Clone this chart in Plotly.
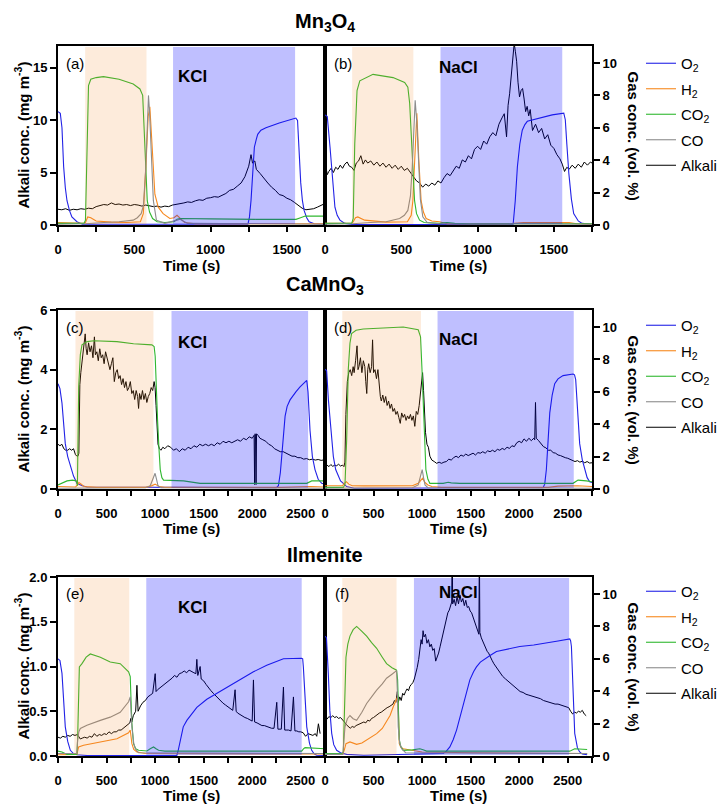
import plotly.graph_objects as go

# ------------------------------------------------------------------ data
materials = ["Mn<sub>3</sub>O<sub>4</sub>", "CaMnO<sub>3</sub>", "Ilmenite"]
panel_tags = ["(a)", "(b)", "(c)", "(d)", "(e)", "(f)"]
salt_names = ["KCl", "NaCl", "KCl", "NaCl", "KCl", "NaCl"]
series_names = ["O<sub>2</sub>", "H<sub>2</sub>", "CO<sub>2</sub>", "CO", "Alkali"]
series_colors = ["#2323e6", "#f7891f", "#30b830", "#8c8c8c", "#000000"]

time_max = [1750, 2750, 2750]
alkali_max = [17.05, 6, 2]
alkali_dtick = [5, 2, 0.5]
alkali_format = ["d", "d", ".1f"]
gas_max = 11.05
gas_dtick = 2

reduction_phase = [[178, 580], [178, 579], [180, 983], [178, 988], [168, 734], [178, 737]]
oxidation_phase = [[754, 1554], [757, 1555], [1169, 2576], [1159, 2562], [909, 2510], [916, 2514]]

# ---- (a) Mn3O4 / KCl
a_o2_t = [0, 15, 26, 37, 48, 59, 75, 91, 124, 160, 1245, 1255, 1265, 1276, 1287, 1300, 1309, 1330, 1363, 1450, 1559, 1570, 1580, 1591, 1602, 1613, 1630, 1646, 1680, 1750]
a_o2 = [7.0, 6.9, 6.0, 3.6, 2.3, 1.5, 0.9, 0.5, 0.2, 0.05, 0.05, 0.5, 1.5, 3.2, 4.8, 5.3, 5.6, 5.85, 6.0, 6.3, 6.6, 6.45, 4.6, 2.6, 1.5, 0.9, 0.45, 0.2, 0.08, 0.05]
a_h2_t = [0, 170, 180, 195, 215, 250, 350, 450, 540, 559, 576, 591, 602, 620, 635, 657, 689, 733, 760, 780, 800, 830, 900, 1250, 1300, 1600, 1750]
a_h2 = [0.15, 0.1, 0.15, 0.5, 0.45, 0.25, 0.18, 0.15, 0.2, 0.7, 3.6, 6.7, 7.3, 4.6, 1.9, 1.1, 0.7, 0.4, 0.45, 0.6, 0.4, 0.15, 0.08, 0.08, 0.1, 0.1, 0.08]
a_co2_t = [0, 170, 180, 190, 200, 215, 250, 298, 400, 493, 537, 555, 565, 575, 585, 600, 620, 650, 700, 760, 780, 800, 850, 1000, 1300, 1560, 1590, 1620, 1750]
a_co2 = [0.1, 0.1, 0.3, 5.0, 8.6, 9.0, 9.1, 9.16, 9.0, 8.7, 8.4, 8.0, 6.0, 3.0, 1.5, 0.8, 0.4, 0.2, 0.15, 0.2, 0.35, 0.4, 0.4, 0.38, 0.35, 0.35, 0.45, 0.55, 0.55]
a_co_t = [0, 180, 300, 400, 493, 520, 545, 560, 575, 585, 593, 600, 612, 625, 645, 700, 780, 800, 850, 1750]
a_co = [0.05, 0.08, 0.15, 0.2, 0.3, 0.45, 0.7, 1.2, 3.5, 6.5, 8.0, 7.0, 4.0, 1.5, 0.3, 0.1, 0.3, 0.35, 0.1, 0.05]
a_alk_t = [0, 25, 50, 75, 100, 125, 150, 175, 200, 225, 250, 275, 300, 325, 350, 375, 400, 425, 450, 475, 500, 525, 550, 575, 600, 625, 650, 675, 700, 725, 750, 775, 800, 825, 850, 875, 900, 925, 950, 975, 1000, 1025, 1050, 1075, 1100, 1125, 1150, 1175, 1200, 1225, 1250, 1265, 1275, 1290, 1300, 1325, 1350, 1375, 1400, 1425, 1450, 1475, 1500, 1525, 1550, 1575, 1600, 1625, 1650, 1675, 1700, 1725, 1750]
a_alk = [1.5, 1.45, 1.55, 1.4, 1.5, 1.45, 1.55, 1.5, 1.6, 1.55, 1.75, 1.85, 1.95, 1.9, 2.1, 1.95, 2.0, 1.9, 1.95, 1.85, 1.95, 1.9, 1.8, 1.9, 1.85, 1.75, 1.8, 1.7, 1.8, 1.75, 1.9, 1.95, 2.05, 2.1, 2.2, 2.15, 2.3, 2.4, 2.35, 2.55, 2.6, 2.7, 2.65, 2.85, 3.0, 3.3, 3.4, 3.7, 4.0, 4.6, 5.6, 6.7, 5.9, 6.1, 5.3, 4.9, 4.4, 4.0, 3.6, 3.3, 2.9, 2.8, 2.55, 2.4, 2.15, 1.9, 1.6, 1.45, 1.5, 1.55, 1.7, 1.85, 2.05]

# ---- (b) Mn3O4 / NaCl
b_o2_t = [0, 15, 33, 50, 65, 80, 98, 130, 180, 1233, 1247, 1261, 1277, 1293, 1310, 1326, 1400, 1489, 1565, 1575, 1585, 1598, 1615, 1630, 1660, 1685, 1750]
b_o2 = [6.8, 6.7, 4.8, 2.6, 1.1, 0.6, 0.3, 0.1, 0.03, 0.03, 1.5, 3.6, 5.0, 5.85, 6.2, 6.4, 6.6, 6.8, 6.9, 6.5, 5.0, 3.2, 1.6, 0.7, 0.25, 0.1, 0.05]
b_h2_t = [0, 175, 185, 200, 215, 260, 400, 540, 565, 576, 588, 602, 615, 630, 645, 663, 700, 750, 800, 1200, 1300, 1600, 1650, 1750]
b_h2 = [0.1, 0.1, 0.2, 0.45, 0.5, 0.3, 0.18, 0.2, 0.6, 1.5, 4.0, 6.9, 4.0, 1.5, 0.8, 0.4, 0.25, 0.2, 0.08, 0.08, 0.15, 0.15, 0.08, 0.05]
b_co2_t = [0, 175, 185, 195, 210, 228, 315, 446, 522, 543, 555, 565, 576, 587, 600, 620, 650, 750, 800, 850, 950, 1750]
b_co2 = [0.1, 0.1, 0.4, 5.0, 8.3, 8.9, 9.3, 9.1, 8.8, 8.5, 7.5, 5.6, 3.2, 1.5, 0.7, 0.3, 0.15, 0.1, 0.15, 0.1, 0.08, 0.08]
b_co_t = [0, 180, 300, 400, 489, 520, 543, 560, 572, 582, 591, 602, 613, 625, 641, 670, 750, 1750]
b_co = [0.05, 0.08, 0.15, 0.2, 0.4, 0.6, 0.9, 1.8, 3.6, 6.0, 7.7, 6.3, 3.6, 1.6, 0.5, 0.15, 0.08, 0.05]
b_alk_t = [0, 15, 25, 40, 55, 70, 85, 100, 115, 130, 145, 160, 175, 190, 205, 220, 235, 250, 265, 280, 300, 320, 340, 360, 380, 400, 420, 440, 460, 480, 500, 520, 540, 560, 580, 600, 620, 640, 660, 680, 700, 720, 740, 760, 780, 800, 820, 840, 860, 880, 900, 920, 940, 960, 980, 1000, 1020, 1040, 1060, 1080, 1100, 1120, 1140, 1160, 1175, 1190, 1200, 1210, 1220, 1230, 1240, 1248, 1256, 1265, 1275, 1285, 1295, 1305, 1315, 1325, 1335, 1345, 1360, 1380, 1400, 1420, 1440, 1460, 1480, 1500, 1520, 1540, 1555, 1570, 1585, 1600, 1620, 1640, 1660, 1680, 1700, 1720, 1740, 1750]
b_alk = [6.0, 4.8, 5.1, 5.4, 5.0, 5.5, 5.3, 5.7, 5.4, 5.8, 6.0, 5.6, 5.5, 5.2, 5.9, 6.1, 6.6, 5.8, 6.2, 5.9, 6.1, 5.7, 6.0, 5.6, 5.9, 5.5, 5.8, 5.4, 5.7, 5.3, 5.6, 5.2, 5.4, 5.0, 4.5, 4.2, 4.0, 3.6, 3.9, 3.7, 4.0, 3.8, 4.2, 4.0, 4.5, 4.9, 4.7, 5.2, 5.6, 5.4, 6.2, 6.0, 6.6, 6.3, 7.2, 7.5, 7.2, 8.0, 7.7, 8.4, 8.8, 8.5, 9.6, 10.2, 10.6, 8.4, 11.4, 12.5, 14.2, 15.8, 17.3, 16.5, 15.6, 13.6, 12.2, 12.8, 13.0, 12.0, 10.8, 11.3, 10.4, 11.0, 9.0, 9.6, 8.8, 9.2, 8.2, 8.6, 7.6, 7.3, 6.7, 6.3, 5.8, 5.1, 5.5, 5.3, 5.7, 5.4, 5.8, 5.5, 6.0, 5.7, 6.0, 5.9]

# ---- (c) CaMnO3 / KCl
c_o2_t = [0, 20, 41, 60, 75, 100, 127, 160, 195, 250, 300, 2250, 2270, 2290, 2304, 2320, 2339, 2360, 2390, 2450, 2493, 2562, 2575, 2596, 2620, 2647, 2680, 2716, 2750]
c_o2 = [6.5, 6.2, 5.3, 4.0, 2.8, 2.0, 1.4, 0.8, 0.35, 0.2, 0.12, 0.08, 0.2, 1.0, 2.0, 3.3, 4.5, 5.1, 5.5, 6.0, 6.3, 6.7, 6.0, 3.6, 2.0, 1.2, 0.6, 0.35, 0.3]
c_h2_t = [0, 180, 200, 215, 240, 270, 400, 900, 960, 1000, 1040, 1100, 2300, 2600, 2750]
c_h2 = [0.15, 0.12, 0.25, 0.4, 0.3, 0.15, 0.1, 0.1, 0.18, 0.3, 0.15, 0.1, 0.1, 0.15, 0.12]
c_co2_t = [0, 93, 150, 190, 200, 213, 230, 247, 300, 367, 607, 778, 967, 990, 1001, 1013, 1025, 1040, 1053, 1070, 1087, 1293, 1464, 2562, 2590, 2613, 2750]
c_co2 = [0.25, 0.5, 0.55, 0.5, 0.2, 6.3, 8.3, 8.9, 9.1, 9.15, 9.1, 8.97, 8.9, 8.8, 8.2, 6.0, 4.3, 2.5, 1.2, 0.7, 0.55, 0.5, 0.35, 0.35, 0.45, 0.5, 0.5]
c_co_t = [0, 900, 950, 980, 1000, 1015, 1030, 1060, 2750]
c_co = [0.05, 0.08, 0.2, 0.6, 0.97, 0.6, 0.2, 0.08, 0.05]
c_alk_t = [0, 20, 40, 60, 80, 100, 120, 140, 160, 180, 195, 205, 215, 225, 235, 250, 265, 280, 290, 300, 315, 330, 345, 360, 375, 385, 400, 415, 430, 445, 460, 475, 490, 505, 520, 535, 550, 565, 580, 595, 610, 625, 640, 655, 670, 685, 700, 715, 730, 745, 760, 775, 790, 805, 820, 830, 840, 855, 870, 885, 900, 915, 930, 945, 960, 975, 990, 1000, 1010, 1020, 1030, 1045, 1060, 1080, 1100, 1130, 1160, 1190, 1220, 1250, 1280, 1310, 1340, 1370, 1400, 1430, 1460, 1490, 1520, 1550, 1580, 1610, 1640, 1670, 1700, 1730, 1760, 1790, 1820, 1850, 1880, 1910, 1940, 1970, 2000, 2020, 2025, 2030, 2035, 2040, 2045, 2060, 2080, 2110, 2140, 2170, 2200, 2230, 2260, 2290, 2320, 2350, 2380, 2410, 2440, 2470, 2500, 2530, 2560, 2590, 2620, 2650, 2680, 2710, 2750]
c_alk = [1.5, 1.45, 1.5, 1.35, 1.3, 1.3, 1.35, 1.3, 1.35, 1.15, 1.1, 1.1, 1.2, 3.5, 3.9, 4.3, 4.6, 5.2, 4.7, 4.5, 4.9, 4.6, 4.8, 4.4, 5.1, 4.5, 4.6, 4.3, 4.7, 4.4, 4.5, 4.2, 4.6, 4.4, 4.3, 4.0, 4.2, 4.4, 3.6, 3.9, 4.0, 3.7, 3.8, 3.5, 3.7, 3.4, 3.6, 3.3, 3.4, 3.6, 3.2, 3.3, 3.0, 3.3, 3.1, 2.7, 3.2, 3.0, 3.3, 3.0, 3.2, 2.9, 3.1, 3.2, 3.4, 3.3, 3.6, 3.4, 2.8, 2.0, 1.5, 1.35, 1.3, 1.4, 1.35, 1.45, 1.4, 1.3, 1.35, 1.25, 1.35, 1.3, 1.4, 1.35, 1.45, 1.4, 1.5, 1.45, 1.5, 1.45, 1.5, 1.45, 1.55, 1.5, 1.6, 1.55, 1.6, 1.55, 1.6, 1.65, 1.6, 1.7, 1.65, 1.75, 1.7, 1.8, 0.15, 1.85, 1.75, 0.15, 1.85, 1.8, 1.7, 1.65, 1.6, 1.5, 1.45, 1.35, 1.3, 1.25, 1.25, 1.2, 1.15, 1.1, 1.1, 1.05, 1.05, 1.0, 1.02, 0.98, 1.0, 0.97, 0.99, 0.96, 0.98]

# ---- (d) CaMnO3 / NaCl
d_o2_t = [0, 17, 35, 51, 70, 86, 110, 137, 160, 189, 223, 300, 2246, 2263, 2280, 2298, 2315, 2340, 2366, 2400, 2452, 2555, 2570, 2582, 2600, 2623, 2650, 2675, 2700, 2726, 2750]
d_o2 = [7.4, 7.3, 5.5, 4.3, 2.8, 2.0, 1.2, 0.76, 0.5, 0.35, 0.15, 0.05, 0.08, 0.3, 1.2, 3.0, 4.7, 5.8, 6.5, 6.8, 7.0, 7.1, 7.05, 6.75, 5.0, 2.8, 1.8, 1.2, 0.7, 0.45, 0.4]
d_h2_t = [0, 180, 200, 220, 245, 280, 400, 900, 960, 990, 1005, 1030, 1060, 1100, 1200, 2300, 2400, 2600, 2750]
d_h2 = [0.2, 0.2, 0.35, 0.45, 0.3, 0.2, 0.19, 0.2, 0.35, 0.6, 0.66, 0.4, 0.25, 0.15, 0.1, 0.1, 0.18, 0.2, 0.15]
d_co2_t = [0, 190, 206, 223, 240, 257, 274, 320, 394, 634, 806, 960, 984, 998, 1012, 1026, 1039, 1060, 1080, 1217, 1269, 1300, 1389, 2555, 2580, 2606, 2692, 2750]
d_co2 = [0.1, 0.1, 0.3, 3.0, 7.4, 9.0, 9.6, 9.8, 9.88, 9.94, 10.0, 9.83, 9.4, 7.5, 5.3, 3.0, 1.2, 0.6, 0.35, 0.35, 0.42, 0.38, 0.35, 0.35, 0.45, 0.55, 0.5, 0.45]
d_co_t = [0, 900, 960, 985, 1001, 1015, 1030, 1060, 2750]
d_co = [0.05, 0.08, 0.25, 0.8, 1.2, 0.7, 0.25, 0.08, 0.05]
d_alk_t = [0, 20, 40, 60, 80, 100, 120, 140, 160, 180, 195, 205, 215, 230, 245, 260, 275, 290, 300, 315, 330, 340, 350, 365, 380, 395, 410, 420, 430, 440, 450, 465, 480, 490, 500, 515, 530, 545, 560, 570, 580, 595, 610, 625, 640, 655, 670, 685, 700, 715, 730, 745, 760, 775, 790, 805, 820, 835, 850, 865, 880, 895, 910, 925, 940, 955, 970, 985, 995, 1005, 1015, 1025, 1035, 1050, 1065, 1080, 1100, 1125, 1150, 1175, 1200, 1225, 1250, 1275, 1300, 1325, 1350, 1375, 1400, 1425, 1450, 1475, 1500, 1525, 1550, 1575, 1600, 1625, 1650, 1675, 1700, 1725, 1750, 1775, 1800, 1825, 1850, 1875, 1900, 1925, 1950, 1975, 2000, 2025, 2050, 2075, 2100, 2125, 2150, 2160, 2168, 2176, 2200, 2225, 2250, 2275, 2300, 2325, 2350, 2375, 2400, 2425, 2450, 2475, 2500, 2525, 2550, 2575, 2600, 2625, 2650, 2675, 2700, 2725, 2750]
d_alk = [0.86, 0.8, 0.75, 0.82, 0.76, 0.8, 0.78, 0.83, 0.77, 0.8, 0.75, 0.9, 2.5, 3.6, 3.9, 4.0, 3.8, 4.1, 3.9, 4.3, 4.8, 4.0, 4.1, 4.4, 3.9, 4.3, 4.1, 3.6, 3.2, 4.0, 4.2, 3.9, 4.1, 5.0, 3.9, 4.0, 3.7, 4.0, 3.4, 3.1, 2.95, 3.15, 2.9, 3.1, 2.8, 2.95, 2.7, 2.85, 2.6, 2.7, 2.5, 2.6, 2.4, 2.2, 2.55, 2.4, 2.5, 2.3, 2.45, 2.35, 2.5, 2.3, 2.45, 2.1, 2.6, 2.5, 2.8, 3.2, 3.5, 3.9, 3.3, 2.2, 1.9, 1.5, 1.4, 1.1, 0.97, 0.92, 0.86, 0.9, 0.86, 0.9, 0.92, 1.0, 0.97, 1.05, 1.1, 1.05, 1.14, 1.1, 1.17, 1.12, 1.15, 1.2, 1.14, 1.22, 1.2, 1.25, 1.2, 1.28, 1.25, 1.3, 1.25, 1.33, 1.3, 1.36, 1.32, 1.4, 1.36, 1.45, 1.42, 1.55, 1.6, 1.55, 1.68, 1.6, 1.7, 1.62, 1.7, 1.65, 2.9, 1.7, 1.62, 1.5, 1.42, 1.38, 1.3, 1.3, 1.22, 1.2, 1.14, 1.12, 1.08, 1.05, 1.03, 1.0, 0.95, 0.92, 0.95, 0.9, 0.93, 0.88, 0.92, 0.87, 0.88]

# ---- (e) Ilmenite / KCl
e_o2_t = [0, 20, 41, 60, 75, 100, 127, 160, 195, 300, 1224, 1240, 1259, 1290, 1327, 1380, 1430, 1533, 1670, 1807, 2013, 2150, 2322, 2510, 2520, 2527, 2545, 2562, 2590, 2613, 2640, 2665, 2750]
e_o2 = [6.0, 5.9, 5.1, 3.5, 1.8, 0.9, 0.35, 0.15, 0.08, 0.03, 0.03, 0.4, 1.0, 1.8, 2.2, 2.6, 3.0, 3.5, 4.0, 4.5, 5.2, 5.6, 6.0, 6.03, 6.0, 5.5, 3.5, 1.8, 0.8, 0.35, 0.12, 0.05, 0.03]
e_h2_t = [0, 195, 202, 213, 264, 436, 607, 727, 744, 752, 761, 780, 813, 900, 2750]
e_h2 = [0.08, 0.1, 0.3, 0.56, 0.66, 0.87, 1.07, 1.43, 1.6, 1.2, 0.76, 0.4, 0.25, 0.15, 0.12]
e_co2_t = [0, 41, 93, 195, 202, 212, 220, 247, 290, 333, 436, 538, 641, 727, 744, 752, 761, 778, 800, 830, 916, 950, 984, 1010, 1036, 1100, 2510, 2530, 2545, 2750]
e_co2 = [0.3, 0.25, 0.1, 0.1, 1.0, 3.5, 5.5, 5.7, 6.1, 6.3, 6.1, 5.8, 5.7, 5.2, 4.9, 3.5, 2.0, 0.76, 0.45, 0.35, 0.31, 0.45, 0.56, 0.45, 0.35, 0.3, 0.3, 0.45, 0.52, 0.45]
e_co_t = [0, 195, 202, 215, 230, 298, 436, 538, 641, 727, 744, 752, 761, 780, 796, 830, 2750]
e_co = [0.15, 0.15, 1.0, 1.5, 1.7, 1.9, 2.2, 2.4, 2.7, 3.35, 3.65, 2.8, 1.8, 0.8, 0.45, 0.2, 0.15]
e_alk_t = [0, 25, 50, 75, 100, 125, 150, 175, 200, 215, 230, 250, 275, 300, 325, 350, 375, 400, 425, 450, 475, 500, 525, 550, 575, 600, 625, 650, 675, 700, 725, 740, 750, 760, 775, 790, 800, 813, 825, 850, 875, 900, 925, 950, 975, 1001, 1010, 1025, 1050, 1075, 1100, 1125, 1150, 1175, 1200, 1225, 1250, 1275, 1300, 1325, 1350, 1375, 1400, 1420, 1430, 1440, 1464, 1475, 1500, 1525, 1550, 1575, 1600, 1625, 1650, 1675, 1700, 1725, 1750, 1775, 1800, 1824, 1835, 1850, 1875, 1900, 1925, 1950, 1975, 2000, 2013, 2025, 2050, 2075, 2100, 2125, 2150, 2175, 2200, 2225, 2253, 2265, 2280, 2300, 2322, 2335, 2350, 2375, 2400, 2425, 2440, 2460, 2480, 2500, 2525, 2550, 2575, 2600, 2625, 2650, 2665, 2682, 2700]
e_alk = [0.21, 0.2, 0.22, 0.21, 0.23, 0.22, 0.24, 0.23, 0.24, 0.22, 0.19, 0.2, 0.21, 0.2, 0.22, 0.21, 0.25, 0.22, 0.24, 0.23, 0.25, 0.24, 0.27, 0.25, 0.27, 0.27, 0.29, 0.29, 0.31, 0.33, 0.35, 0.37, 0.42, 0.38, 0.45, 0.48, 0.5, 0.79, 0.5, 0.56, 0.6, 0.62, 0.66, 0.68, 0.7, 0.92, 0.72, 0.74, 0.76, 0.79, 0.8, 0.83, 0.85, 0.87, 0.9, 0.88, 0.92, 0.93, 0.95, 0.93, 0.96, 0.94, 0.93, 0.92, 1.08, 0.9, 1.0, 0.86, 0.84, 0.8, 0.76, 0.73, 0.7, 0.67, 0.64, 0.62, 0.59, 0.57, 0.55, 0.53, 0.51, 0.74, 0.5, 0.48, 0.46, 0.45, 0.43, 0.42, 0.4, 0.39, 0.85, 0.38, 0.37, 0.35, 0.34, 0.34, 0.33, 0.32, 0.31, 0.31, 0.6, 0.3, 0.3, 0.3, 0.77, 0.29, 0.29, 0.29, 0.28, 0.66, 0.28, 0.28, 0.27, 0.27, 0.26, 0.22, 0.25, 0.24, 0.23, 0.25, 0.22, 0.36, 0.25]

# ---- (f) Ilmenite / NaCl
f_o2_t = [0, 15, 34, 50, 69, 90, 120, 160, 223, 400, 1217, 1250, 1286, 1320, 1355, 1390, 1423, 1460, 1492, 1530, 1560, 1600, 1629, 1700, 1766, 1900, 2006, 2150, 2280, 2400, 2521, 2530, 2538, 2555, 2572, 2600, 2623, 2650, 2700]
f_o2 = [7.4, 7.3, 5.1, 2.8, 1.4, 0.7, 0.35, 0.2, 0.1, 0.05, 0.15, 0.3, 0.56, 1.0, 1.6, 2.4, 3.24, 4.0, 4.7, 5.2, 5.5, 5.8, 5.93, 6.2, 6.45, 6.6, 6.76, 6.85, 6.96, 7.1, 7.23, 7.1, 6.76, 4.0, 1.4, 0.5, 0.25, 0.12, 0.08]
f_h2_t = [0, 185, 200, 216, 257, 290, 326, 380, 429, 480, 532, 590, 634, 670, 703, 730, 748, 757, 765, 780, 806, 850, 909, 1000, 1500, 2700]
f_h2 = [0.15, 0.15, 0.4, 0.76, 0.87, 0.8, 0.72, 0.8, 0.97, 1.15, 1.38, 1.7, 2.1, 2.5, 3.04, 3.4, 3.66, 2.5, 0.76, 0.55, 0.45, 0.4, 0.35, 0.25, 0.2, 0.15]
f_co2_t = [0, 180, 189, 200, 216, 235, 257, 290, 326, 380, 429, 480, 532, 590, 634, 690, 737, 748, 757, 765, 780, 806, 900, 977, 1010, 1046, 2521, 2550, 2572, 2700]
f_co2 = [0.15, 0.15, 0.3, 3.0, 6.1, 6.9, 7.4, 7.8, 8.0, 7.7, 7.4, 7.0, 6.65, 6.1, 5.7, 5.45, 5.3, 4.7, 2.8, 1.0, 0.6, 0.35, 0.38, 0.45, 0.38, 0.3, 0.3, 0.4, 0.45, 0.4]
f_co_t = [0, 185, 195, 206, 230, 257, 290, 326, 380, 429, 480, 532, 590, 634, 690, 737, 745, 754, 770, 789, 830, 2700]
f_co = [0.1, 0.1, 1.0, 1.8, 2.3, 2.5, 2.3, 2.2, 2.7, 3.24, 3.65, 4.07, 4.45, 4.8, 5.05, 5.27, 4.0, 1.8, 0.8, 0.45, 0.2, 0.15]
f_alk_t = [0, 20, 40, 60, 80, 100, 120, 140, 160, 180, 200, 220, 240, 260, 280, 300, 320, 340, 360, 380, 400, 420, 440, 460, 480, 500, 520, 540, 560, 580, 600, 620, 640, 660, 680, 700, 715, 730, 745, 755, 770, 785, 800, 815, 830, 845, 860, 875, 890, 905, 920, 935, 950, 965, 980, 990, 1000, 1010, 1020, 1035, 1050, 1065, 1080, 1095, 1110, 1125, 1140, 1155, 1170, 1185, 1200, 1215, 1230, 1250, 1265, 1280, 1295, 1305, 1310, 1315, 1330, 1345, 1360, 1375, 1390, 1405, 1420, 1435, 1450, 1465, 1480, 1495, 1510, 1525, 1540, 1555, 1570, 1585, 1590, 1595, 1610, 1625, 1640, 1655, 1670, 1685, 1700, 1720, 1740, 1760, 1780, 1800, 1830, 1860, 1890, 1920, 1950, 1980, 2010, 2040, 2070, 2100, 2130, 2160, 2190, 2220, 2250, 2280, 2310, 2340, 2370, 2400, 2430, 2460, 2490, 2510, 2530, 2550, 2570, 2590, 2610, 2630, 2650, 2670, 2690]
f_alk = [0.42, 0.41, 0.44, 0.43, 0.45, 0.43, 0.44, 0.42, 0.43, 0.41, 0.38, 0.35, 0.33, 0.31, 0.33, 0.32, 0.34, 0.35, 0.36, 0.37, 0.38, 0.37, 0.4, 0.39, 0.42, 0.43, 0.45, 0.46, 0.48, 0.49, 0.51, 0.52, 0.54, 0.55, 0.57, 0.58, 0.62, 0.6, 0.72, 0.6, 0.66, 0.62, 0.7, 0.68, 0.72, 0.75, 0.73, 0.78, 0.8, 0.82, 0.86, 0.92, 0.99, 1.08, 1.2, 1.3, 1.25, 1.4, 1.33, 1.36, 1.26, 1.3, 1.22, 1.25, 1.18, 1.2, 1.06, 1.1, 1.15, 1.22, 1.29, 1.38, 1.45, 1.55, 1.6, 1.63, 1.68, 1.72, 2.4, 1.7, 1.75, 1.68, 1.78, 1.7, 1.8, 1.72, 1.76, 1.68, 1.74, 1.66, 1.67, 1.62, 1.6, 1.55, 1.5, 1.46, 1.4, 1.36, 2.4, 1.38, 1.32, 1.28, 1.24, 1.22, 1.17, 1.15, 1.11, 1.07, 1.03, 1.0, 0.96, 0.93, 0.89, 0.86, 0.83, 0.8, 0.77, 0.74, 0.72, 0.71, 0.69, 0.68, 0.67, 0.66, 0.65, 0.64, 0.62, 0.61, 0.6, 0.59, 0.58, 0.58, 0.57, 0.56, 0.55, 0.54, 0.5, 0.47, 0.49, 0.48, 0.5, 0.49, 0.51, 0.47, 0.45]

panel_series = [
    [(a_o2_t, a_o2), (a_h2_t, a_h2), (a_co2_t, a_co2), (a_co_t, a_co), (a_alk_t, a_alk)],
    [(b_o2_t, b_o2), (b_h2_t, b_h2), (b_co2_t, b_co2), (b_co_t, b_co), (b_alk_t, b_alk)],
    [(c_o2_t, c_o2), (c_h2_t, c_h2), (c_co2_t, c_co2), (c_co_t, c_co), (c_alk_t, c_alk)],
    [(d_o2_t, d_o2), (d_h2_t, d_h2), (d_co2_t, d_co2), (d_co_t, d_co), (d_alk_t, d_alk)],
    [(e_o2_t, e_o2), (e_h2_t, e_h2), (e_co2_t, e_co2), (e_co_t, e_co), (e_alk_t, e_alk)],
    [(f_o2_t, f_o2), (f_h2_t, f_h2), (f_co2_t, f_co2), (f_co_t, f_co), (f_alk_t, f_alk)],
]

# ------------------------------------------------------------------ layout
W, H = 721, 804
FONT = "Liberation Sans, Arial, Helvetica, sans-serif"
col_px = [(58, 325), (325, 592)]
row_px = [(46, 225), (310, 489), (577, 756)]


def sfx(i):
    return "" if i == 1 else str(i)


def fx(px):
    return px / W


def fy(py):
    return 1 - py / H


tickfont = dict(family=FONT, size=13, color="black", weight="bold")
fig = go.Figure()
layout = {}

for p in range(6):
    r, side = divmod(p, 2)
    xi, ya, yg = p + 1, 2 * p + 1, 2 * p + 2
    for k, (t, v) in enumerate(panel_series[p]):
        fig.add_trace(go.Scatter(
            x=t, y=v, mode="lines", name=series_names[k],
            line=dict(color=series_colors[k], width=1.1 if k < 4 else 1.0),
            xaxis="x" + sfx(xi), yaxis="y" + sfx(yg if k < 4 else ya),
            legend="legend" + sfx(r + 1), legendgroup=f"r{r}s{k}",
            showlegend=(side == 0), hoverinfo="skip"))

    x0, x1 = col_px[side]
    top, bot = row_px[r]
    layout["xaxis" + sfx(xi)] = dict(
        domain=[fx(x0), fx(x1)], anchor="y" + sfx(ya), range=[0, time_max[r]],
        tick0=0, dtick=500, ticks="outside", ticklen=5, tickwidth=1.5, tickcolor="black",
        minor=dict(tick0=0, dtick=250, ticks="outside", ticklen=5, tickwidth=1.5,
                   tickcolor="black", showgrid=False),
        showline=True, linewidth=2, linecolor="black", mirror=True,
        showgrid=False, zeroline=False, tickfont=tickfont, ticklabelstandoff=6)
    layout["yaxis" + sfx(ya)] = dict(
        domain=[fy(bot), fy(top)], anchor="x" + sfx(xi), range=[0, alkali_max[r]],
        tick0=0, dtick=alkali_dtick[r], tickformat=alkali_format[r],
        ticks="outside" if side == 0 else "", ticklen=6, tickwidth=1.5, tickcolor="black",
        showticklabels=(side == 0), showline=True, linewidth=2, linecolor="black",
        mirror=True, showgrid=False, zeroline=False, tickfont=tickfont)
    layout["yaxis" + sfx(yg)] = dict(
        overlaying="y" + sfx(ya), anchor="x" + sfx(xi), side="right",
        range=[0, gas_max], tick0=0, dtick=gas_dtick, visible=(side == 1),
        ticks="outside", ticklen=6, tickwidth=1.5, tickcolor="black",
        showticklabels=True, showline=True, linewidth=2, linecolor="black",
        showgrid=False, zeroline=False, tickfont=tickfont)

    # phase shading (drawn semi-transparent on top of the traces)
    for (s0, s1), color, op in [(reduction_phase[p], "#f5821e", 0.16),
                                (oxidation_phase[p], "#0000ff", 0.25)]:
        fig.add_shape(type="rect", xref="x" + sfx(xi), yref="y" + sfx(ya) + " domain",
                      x0=s0, x1=s1, y0=0.006, y1=0.994, fillcolor=color, opacity=op,
                      line_width=0, layer="above")

annotations = []


def note(xp, yp, text, size, bold=False, angle=0):
    annotations.append(dict(
        x=fx(xp), y=fy(yp), xref="paper", yref="paper", xanchor="center", yanchor="middle",
        text=("<b>" + text + "</b>") if bold else text, showarrow=False, textangle=angle,
        font=dict(family=FONT, size=size, color="black")))


tag_pos = [(75, 63), (343, 63), (75, 328), (343, 328), (75, 593), (342, 593)]
salt_pos = [(192, 76), (458, 67), (192, 342), (458, 340), (192, 607), (458, 592)]
for p in range(6):
    note(tag_pos[p][0], tag_pos[p][1], panel_tags[p], 15)
    note(salt_pos[p][0], salt_pos[p][1], salt_names[p], 17, bold=True)

title_y = [22, 285, 555]
time_label_y = [265, 528, 795]
for r in range(3):
    top, bot = row_px[r]
    mid = (top + bot) / 2
    note(325, title_y[r], materials[r], 20, bold=True)
    for side in range(2):
        x0, x1 = col_px[side]
        note((x0 + x1) / 2, time_label_y[r], "Time (s)", 15, bold=True)
    note(22, mid, "Alkali conc. (mg m<sup>-3</sup>)", 15, bold=True, angle=-90)
    note(633, mid, "Gas conc. (vol. %)", 15, bold=True, angle=90)

legend_top = [47, 309, 575]
for r in range(3):
    layout["legend" + sfx(r + 1)] = dict(
        x=fx(641), y=fy(legend_top[r]), xanchor="left", yanchor="top",
        font=dict(family=FONT, size=15, color="black"), bgcolor="rgba(0,0,0,0)",
        traceorder="grouped", tracegroupgap=3, itemclick=False, itemdoubleclick=False)

fig.update_layout(**layout)
fig.update_layout(width=W, height=H,
                  margin=dict(l=0, r=0, t=0, b=0, pad=0, autoexpand=False),
                  plot_bgcolor="white", paper_bgcolor="white", annotations=annotations,
                  showlegend=True)
fig.write_html("out.html")
